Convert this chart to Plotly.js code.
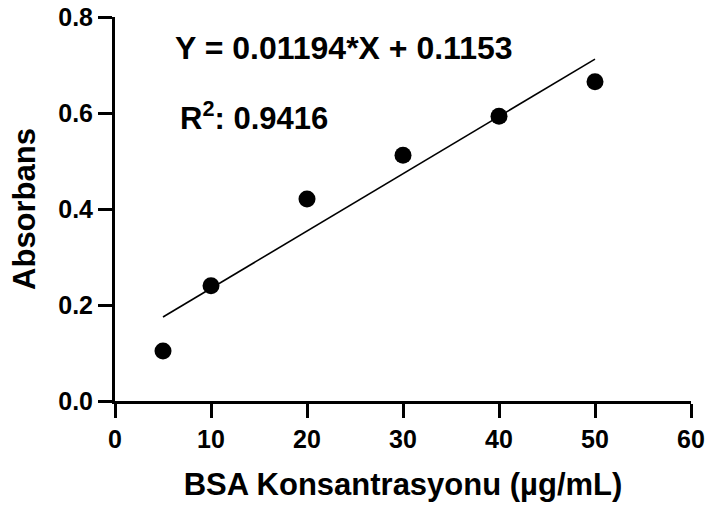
<!DOCTYPE html>
<html>
<head>
<meta charset="utf-8">
<script src="https://cdn.plot.ly/plotly-3.0.1.min.js"></script>
<style>html,body{margin:0;padding:0;background:#fff;}#chart{width:708px;height:510px;}</style>
</head>
<body>
<div id="chart"></div>
<script>
// Data
const concentrations = [5, 10, 20, 30, 40, 50];
const absorbance = [0.104, 0.240, 0.421, 0.512, 0.593, 0.665];
const slope = 0.01194;
const intercept = 0.1153;
const fitX = [5, 50];
const fitY = fitX.map(x => slope * x + intercept);
const xTicks = [0, 10, 20, 30, 40, 50, 60];
const yTicks = [0, 0.2, 0.4, 0.6, 0.8];
const yTickLabels = ['0.0', '0.2', '0.4', '0.6', '0.8'];
const equationText = 'Y = 0.01194*X + 0.1153';
const r2Text = 'R<sup>2</sup>: 0.9416';

const font = 'Liberation Sans, Arial, sans-serif';

const traces = [
  {x: fitX, y: fitY, mode: 'lines', type: 'scatter', line: {color: '#000', width: 1.6}, hoverinfo: 'skip', showlegend: false, cliponaxis: false},
  {x: concentrations, y: absorbance, mode: 'markers', type: 'scatter', marker: {color: '#000', size: 17}, showlegend: false, cliponaxis: false}
];

const layout = {
  width: 708, height: 510,
  margin: {l: 115, r: 17, t: 17, b: 109},
  paper_bgcolor: '#fff', plot_bgcolor: '#fff',
  font: {family: font, color: '#000'},
  showlegend: false,
  xaxis: {
    range: [0, 60], tickvals: xTicks, ticktext: xTicks.map(String),
    showgrid: false, zeroline: false, showline: true, linecolor: '#000', linewidth: 3,
    ticks: 'outside', ticklen: 14, tickwidth: 3, tickcolor: '#000',
    tickfont: {family: font, size: 25, weight: 'bold', color: '#000'},
    title: {text: '<b>BSA Konsantrasyonu (µg/mL)</b>', font: {family: font, size: 31, color: '#000'}, standoff: 22},
    automargin: false, fixedrange: true
  },
  yaxis: {
    range: [0, 0.8], tickvals: yTicks, ticktext: yTickLabels,
    showgrid: false, zeroline: false, showline: true, linecolor: '#000', linewidth: 3,
    ticks: 'outside', ticklen: 14, tickwidth: 3, tickcolor: '#000',
    tickfont: {family: font, size: 25, weight: 'bold', color: '#000'},
    title: {text: '<b>Absorbans</b>', font: {family: font, size: 31, color: '#000'}, standoff: 14},
    automargin: false, fixedrange: true
  },
  annotations: [
    {x: 6.0, y: 0.735, xref: 'x', yref: 'y', xanchor: 'left', yanchor: 'middle', showarrow: false,
     text: '<b>' + equationText + '</b>', font: {family: font, size: 32, color: '#000'}},
    {x: 6.6, y: 0.594, xref: 'x', yref: 'y', xanchor: 'left', yanchor: 'middle', showarrow: false,
     text: '<b>' + r2Text + '</b>', font: {family: font, size: 31, color: '#000'}}
  ]
};

Plotly.newPlot('chart', traces, layout, {displayModeBar: false, staticPlot: true});
</script>
</body>
</html>
